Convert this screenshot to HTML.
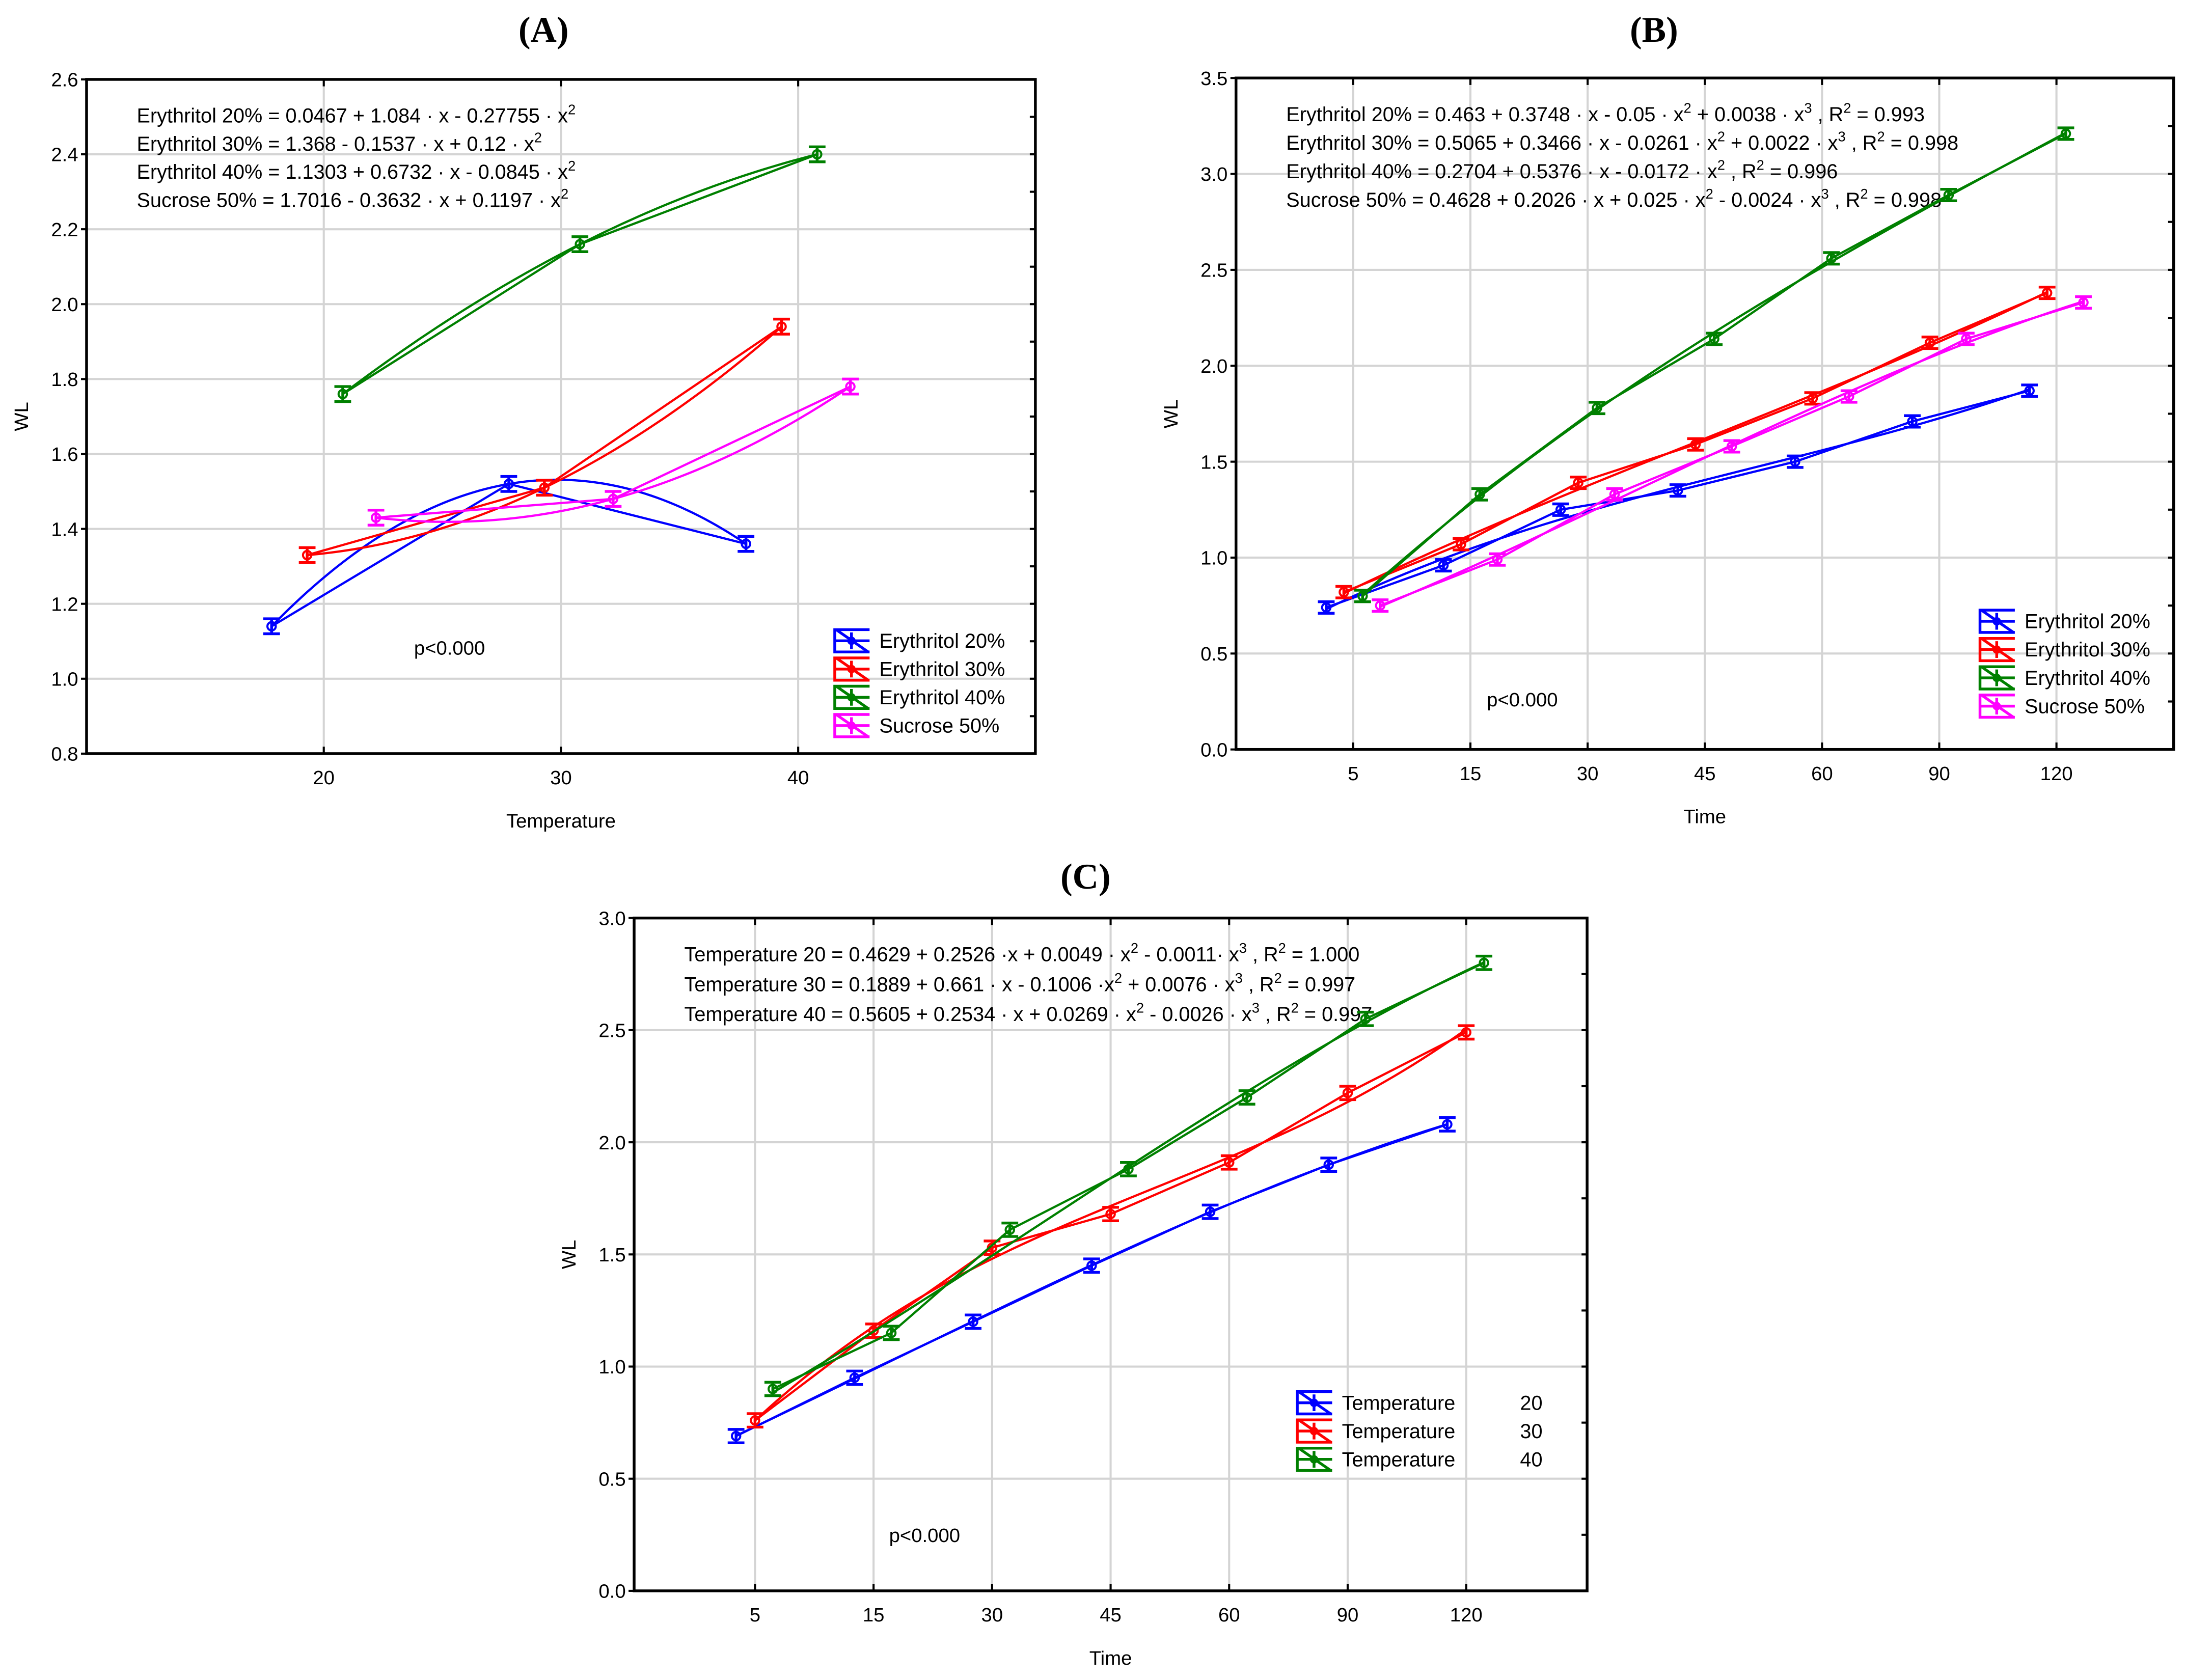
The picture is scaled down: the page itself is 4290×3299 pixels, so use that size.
<!DOCTYPE html>
<html><head><meta charset="utf-8"><style>
html,body{margin:0;padding:0;background:#fff;}
svg{display:block;}
text{font-family:"Liberation Sans",sans-serif;fill:#000;}
</style></head>
<body>
<svg id="root" width="4290" height="3299" viewBox="0 0 1568 1206" xmlns="http://www.w3.org/2000/svg">
<rect x="0" y="0" width="1568" height="1206" fill="#fff"/>
</svg>
<script>
// ---- Panel A data ----
const catsA = [20, 30, 40];
const namesA = ["Erythritol 20%", "Erythritol 30%", "Erythritol 40%", "Sucrose 50%"];
const ery20A = [1.14, 1.52, 1.36];
const ery30A = [1.33, 1.51, 1.94];
const ery40A = [1.76, 2.16, 2.40];
const suc50A = [1.43, 1.48, 1.78];
const yTicksA = [0.8, 1.0, 1.2, 1.4, 1.6, 1.8, 2.0, 2.2, 2.4, 2.6];
// ---- Panel B data ----
const catsB = ["5", "15", "30", "45", "60", "90", "120"];
const namesB = ["Erythritol 20%", "Erythritol 30%", "Erythritol 40%", "Sucrose 50%"];
const ery20B = [0.74, 0.96, 1.25, 1.35, 1.50, 1.71, 1.87];
const ery30B = [0.82, 1.07, 1.39, 1.59, 1.83, 2.12, 2.38];
const ery40B = [0.80, 1.33, 1.78, 2.14, 2.56, 2.89, 3.21];
const suc50B = [0.75, 0.99, 1.33, 1.58, 1.84, 2.14, 2.33];
const yTicksB = [0.0, 0.5, 1.0, 1.5, 2.0, 2.5, 3.0, 3.5];
// ---- Panel C data ----
const catsC = ["5", "15", "30", "45", "60", "90", "120"];
const t20C = [0.69, 0.95, 1.20, 1.45, 1.69, 1.90, 2.08];
const t30C = [0.76, 1.16, 1.53, 1.68, 1.91, 2.22, 2.49];
const t40C = [0.90, 1.15, 1.61, 1.88, 2.20, 2.55, 2.80];
const yTicksC = [0.0, 0.5, 1.0, 1.5, 2.0, 2.5, 3.0];

const NS = "http://www.w3.org/2000/svg";
const root = document.getElementById('root');
function mk(tag, attrs, parent) {
  const e = document.createElementNS(NS, tag);
  for (const k in attrs) e.setAttribute(k, attrs[k]);
  (parent || root).appendChild(e);
  return e;
}
function polyfit(xs, ys, deg) {
  const n = deg + 1;
  const A = [];
  for (let i = 0; i < n; i++) { A.push(new Array(n + 1).fill(0)); }
  for (let k = 0; k < xs.length; k++) {
    for (let i = 0; i < n; i++) {
      for (let j = 0; j < n; j++) A[i][j] += Math.pow(xs[k], i + j);
      A[i][n] += ys[k] * Math.pow(xs[k], i);
    }
  }
  for (let i = 0; i < n; i++) {
    let p = i;
    for (let r = i + 1; r < n; r++) if (Math.abs(A[r][i]) > Math.abs(A[p][i])) p = r;
    const tmp = A[i]; A[i] = A[p]; A[p] = tmp;
    for (let r = 0; r < n; r++) {
      if (r === i) continue;
      const f = A[r][i] / A[i][i];
      for (let c = i; c <= n; c++) A[r][c] -= f * A[i][c];
    }
  }
  return A.map((row, i) => row[n] / row[i]);
}
function evalPoly(c, x) { let s = 0; for (let i = c.length - 1; i >= 0; i--) s = s * x + c[i]; return s; }

function panel(cfg) {
  const g = mk('g', {});
  
  
  const {x0, x1, y0, y1, xmin, xmax, ymin, ymax} = cfg;
  const sx = v => x0 + (v - xmin) / (xmax - xmin) * (x1 - x0);
  const sy = v => y1 - (v - ymin) / (ymax - ymin) * (y1 - y0);
  const grid = mk('g', {}, g);
  
  
  cfg.yTicks.forEach(t => {
    if (t > ymin && t < ymax) mk('line', {x1: x0, x2: x1, y1: sy(t), y2: sy(t), stroke: '#d4d4d4', 'stroke-width': 1.5}, grid);
  });
  cfg.xTickPos.forEach(p => mk('line', {x1: sx(p), x2: sx(p), y1: y0, y2: y1, stroke: '#d4d4d4', 'stroke-width': 1.5}, grid));
  const fr = mk('rect', {x: x0, y: y0, width: x1 - x0, height: y1 - y0, fill: 'none', stroke: '#000', 'stroke-width': 2}, g);
  
  
  const ya = mk('g', {}, g);
  
  
  cfg.yTicks.forEach((t, i) => {
    mk('line', {x1: x0 - 4, x2: x0, y1: sy(t), y2: sy(t), stroke: '#000', 'stroke-width': 1.5}, ya);
    mk('line', {x1: x1 - 4, x2: x1, y1: sy(t), y2: sy(t), stroke: '#000', 'stroke-width': 1.5}, ya);
    if (i < cfg.yTicks.length - 1) {
      const m = (t + cfg.yTicks[i + 1]) / 2;
      mk('line', {x1: x1 - 4, x2: x1, y1: sy(m), y2: sy(m), stroke: '#000', 'stroke-width': 1.5}, ya);
    }
    const tx = mk('text', {x: x0 - 6, y: sy(t) + 5, 'text-anchor': 'end', 'font-size': 14}, ya);
    tx.textContent = t.toFixed(1);
  });
  const yt = mk('text', {x: 0, y: 0, 'text-anchor': 'middle', 'font-size': 14, transform: `translate(${x0 - 42},${(y0 + y1) / 2}) rotate(-90)`}, g);
  
  
  yt.textContent = 'WL';
  const xa = mk('g', {}, g);
  
  
  cfg.xTickPos.forEach((p, i) => {
    mk('line', {x1: sx(p), x2: sx(p), y1: y1, y2: y1 - 5, stroke: '#000', 'stroke-width': 1.5}, xa);
    mk('line', {x1: sx(p), x2: sx(p), y1: y0, y2: y0 + 5, stroke: '#000', 'stroke-width': 1.5}, xa);
    const tx = mk('text', {x: sx(p), y: y1 + 22, 'text-anchor': 'middle', 'font-size': 14}, xa);
    tx.textContent = cfg.xTickLabels[i];
  });
  const xt = mk('text', {x: (x0 + x1) / 2, y: y1 + 53, 'text-anchor': 'middle', 'font-size': 14}, g);
  
  
  xt.textContent = cfg.xTitle;
  const tt = mk('text', {x: cfg.titleX, y: cfg.titleY, 'text-anchor': 'middle', 'font-size': 26, 'font-weight': 'bold', style: 'font-family:"Liberation Serif",serif'}, g);
  
  
  tt.textContent = cfg.title;
  cfg.eqs.forEach((eq, i) => {
    const t = mk('text', {x: x0 + 36, y: y0 + 31 + i * cfg.eqGap, 'font-size': 14.5}, g);
    
    
    t.innerHTML = eq;
  });
  const pv = mk('text', {x: cfg.pX, y: cfg.pY, 'font-size': 14}, g);
  
  
  pv.textContent = 'p<0.000';
  cfg.series.forEach((s, si) => {
    const sg = mk('g', {}, g);
    
    
    const xs = s.values.map((v, i) => cfg.xPos(i) + cfg.offsets[si]);
    const pts = s.values.map((v, i) => sx(xs[i]) + ',' + sy(v)).join(' ');
    const c = polyfit(xs, s.values, cfg.deg);
    const fp = [];
    const a = xs[0], b = xs[xs.length - 1];
    for (let k = 0; k <= 80; k++) { const xv = a + (b - a) * k / 80; fp.push(sx(xv).toFixed(2) + ',' + sy(evalPoly(c, xv)).toFixed(2)); }
    const fl = mk('polyline', {points: fp.join(' '), fill: 'none', stroke: s.color, 'stroke-width': 1.6}, sg);
    
    
    const pl = mk('polyline', {points: pts, fill: 'none', stroke: s.color, 'stroke-width': 1.6}, sg);
    
    
    s.values.forEach((v, i) => {
      const px = sx(xs[i]), py = sy(v);
      const e = cfg.err;
      const eb = mk('path', {d: `M${px - 6},${sy(v + e)}H${px + 6}M${px},${sy(v + e)}V${sy(v - e)}M${px - 6},${sy(v - e)}H${px + 6}`, stroke: s.color, 'stroke-width': 2, fill: 'none'}, sg);
      
      
      const m = mk('circle', {cx: px, cy: py, r: 3, fill: 'none', stroke: s.color, 'stroke-width': 1.5}, sg);
      
      
    });
  });
  const lg = mk('g', {}, g);
  
  
  cfg.series.forEach((s, i) => {
    const lx = cfg.legX, ly = cfg.legY + i * 20.3;
    const le = mk('g', {}, lg);
    
    
    mk('path', {d: `M${lx},${ly - 8}H${lx + 26}M${lx},${ly}H${lx + 26}M${lx},${ly + 8}H${lx + 26}M${lx + 1},${ly - 8}V${ly + 8}M${lx + 2},${ly - 8}L${lx + 25},${ly + 8}M${lx + 13},${ly - 6}V${ly + 6}`, stroke: s.color, 'stroke-width': 2, fill: 'none'}, le);
    mk('circle', {cx: lx + 13, cy: ly, r: 3, fill: s.color}, le);
    const t = mk('text', {x: lx + 33, y: ly + 5, 'font-size': 14.5}, le);
    t.textContent = s.label;
    if (s.extra) { const t2 = mk('text', {x: lx + 177, y: ly + 5, 'font-size': 14.5, 'text-anchor': 'end'}, le); t2.textContent = s.extra; }
  });
}
const sup = s => `<tspan dy="-6" font-size="10">${s}</tspan><tspan dy="6"> </tspan>`;
panel({
  name: 'panel-a', title: '(A)', titleX: 390, titleY: 30,
  x0: 62, x1: 743, y0: 57, y1: 541, xmin: 10, xmax: 50, ymin: 0.8, ymax: 2.6,
  yTicks: yTicksA, xTickPos: catsA, xTickLabels: catsA.map(String), xTitle: 'Temperature',
  xPos: i => catsA[i], offsets: [-2.2, -0.7, 0.8, 2.2], deg: 2, err: 0.02, eqGap: 20.2,
  eqs: [
    'Erythritol 20%  = 0.0467 + 1.084 · x - 0.27755 · x' + sup('2'),
    'Erythritol 30%  = 1.368 - 0.1537 · x + 0.12 · x' + sup('2'),
    'Erythritol 40%  = 1.1303 + 0.6732 · x - 0.0845 · x' + sup('2'),
    'Sucrose 50% = 1.7016 - 0.3632 · x + 0.1197 · x' + sup('2')
  ],
  pX: 297, pY: 470, legX: 598, legY: 460,
  series: [
    {key: 'erythritol-20', label: namesA[0], color: '#0000ff', values: ery20A},
    {key: 'erythritol-30', label: namesA[1], color: '#ff0000', values: ery30A},
    {key: 'erythritol-40', label: namesA[2], color: '#008000', values: ery40A},
    {key: 'sucrose-50', label: namesA[3], color: '#ff00ff', values: suc50A}
  ]
});
panel({
  name: 'panel-b', title: '(B)', titleX: 1187, titleY: 30,
  x0: 887, x1: 1560, y0: 56, y1: 538, xmin: -1, xmax: 7, ymin: 0, ymax: 3.5,
  yTicks: yTicksB, xTickPos: catsB.map((c, i) => i), xTickLabels: catsB, xTitle: 'Time',
  xPos: i => i, offsets: [-0.23, -0.08, 0.08, 0.23], deg: 3, err: 0.03, eqGap: 20.5,
  eqs: [
    'Erythritol 20%  = 0.463 + 0.3748 · x - 0.05 · x' + sup('2') + '+ 0.0038 · x' + sup('3') + ', R' + sup('2') + '= 0.993',
    'Erythritol 30%  = 0.5065 + 0.3466 · x - 0.0261 · x' + sup('2') + '+ 0.0022 · x' + sup('3') + ', R' + sup('2') + '= 0.998',
    'Erythritol 40%  = 0.2704 + 0.5376 · x - 0.0172 · x' + sup('2') + ', R' + sup('2') + '= 0.996',
    'Sucrose 50% = 0.4628 + 0.2026 · x + 0.025 · x' + sup('2') + '- 0.0024 · x' + sup('3') + ', R' + sup('2') + '= 0.998'
  ],
  pX: 1067, pY: 507, legX: 1420, legY: 446,
  series: [
    {key: 'erythritol-20', label: namesB[0], color: '#0000ff', values: ery20B},
    {key: 'erythritol-30', label: namesB[1], color: '#ff0000', values: ery30B},
    {key: 'erythritol-40', label: namesB[2], color: '#008000', values: ery40B},
    {key: 'sucrose-50', label: namesB[3], color: '#ff00ff', values: suc50B}
  ]
});
panel({
  name: 'panel-c', title: '(C)', titleX: 779, titleY: 638,
  x0: 455, x1: 1139, y0: 659, y1: 1142, xmin: -1.02, xmax: 7.02, ymin: 0, ymax: 3.0,
  yTicks: yTicksC, xTickPos: catsC.map((c, i) => i), xTickLabels: catsC, xTitle: 'Time',
  xPos: i => i, offsets: [-0.16, 0, 0.15], deg: 3, err: 0.03, eqGap: 21.5,
  eqs: [
    'Temperature 20 = 0.4629 + 0.2526 ·x + 0.0049 · x' + sup('2') + '- 0.0011· x' + sup('3') + ', R' + sup('2') + '= 1.000',
    'Temperature 30 = 0.1889 + 0.661 · x - 0.1006 ·x' + sup('2') + '+ 0.0076 · x' + sup('3') + ', R' + sup('2') + '= 0.997',
    'Temperature 40 = 0.5605 + 0.2534 · x + 0.0269 · x' + sup('2') + '- 0.0026 · x' + sup('3') + ', R' + sup('2') + '= 0.997'
  ],
  pX: 638, pY: 1107, legX: 930, legY: 1007,
  series: [
    {key: 'temperature-20', label: 'Temperature', extra: '20', color: '#0000ff', values: t20C},
    {key: 'temperature-30', label: 'Temperature', extra: '30', color: '#ff0000', values: t30C},
    {key: 'temperature-40', label: 'Temperature', extra: '40', color: '#008000', values: t40C}
  ]
});
</script>
</body></html>
